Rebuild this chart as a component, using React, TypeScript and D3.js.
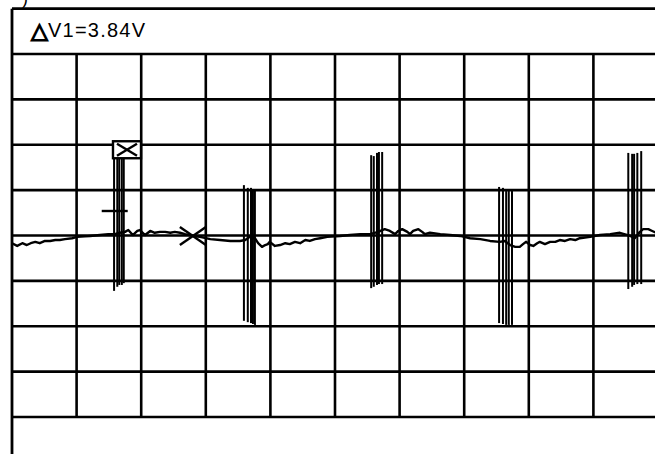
import React from "react";
import * as d3 from "d3";

// Screen size and graticule (10 x 8 divisions, plus one header division on top)
const W = 655;
const H = 454;
const DIV_X = 10;
const DIV_Y = 4; // +/- divisions around the centre line

// Trace samples: time in divisions, amplitude in divisions
const traceT = [
  0, 0.08, 0.16, 0.23, 0.29, 0.36, 0.43, 0.51, 0.59, 0.67, 0.74, 0.82, 0.93, 1.01,
  1.13, 1.21, 1.36, 1.49, 1.59, 1.67, 1.75, 1.8, 1.87, 1.94, 1.98, 2.06, 2.14, 2.21,
  2.29, 2.37, 2.45, 2.52, 2.6, 2.68, 2.8, 2.91, 3.07, 3.22, 3.38, 3.53, 3.61, 3.68,
  3.76, 3.81, 3.87, 3.92, 3.96, 3.99, 4.07, 4.15, 4.23, 4.3, 4.38, 4.46, 4.54, 4.61,
  4.69, 4.77, 4.88, 5.08, 5.23, 5.39, 5.54, 5.67, 5.73, 5.77, 5.85, 5.93, 5.98, 6.04,
  6.12, 6.16, 6.21, 6.29, 6.35, 6.39, 6.47, 6.63, 6.78, 6.94, 7.09, 7.25, 7.4, 7.55,
  7.63, 7.71, 7.79, 7.86, 7.91, 7.96, 8.02, 8.07, 8.13, 8.17, 8.25, 8.33, 8.41, 8.48,
  8.56, 8.64, 8.72, 8.79, 8.95, 9.1, 9.26, 9.41, 9.57, 9.64, 9.72, 9.77, 9.85, 9.91,
  9.97,
];
const traceV = [
  -0.17, -0.23, -0.17, -0.21, -0.17, -0.14, -0.17, -0.12, -0.12, -0.1, -0.1, -0.08,
  -0.06, -0.03, -0.02, -0.01, 0.01, 0.03, 0.03, 0.06, 0.08, 0.12, 0.01, 0.1, 0.12,
  0.01, 0.1, 0.06, 0.08, 0.08, 0.06, 0.08, 0.06, 0.03, -0.01, -0.03, -0.08, -0.1,
  -0.12, -0.12, -0.1, -0.03, -0.06, -0.17, -0.25, -0.21, -0.19, -0.14, -0.23, -0.21,
  -0.17, -0.19, -0.14, -0.17, -0.1, -0.12, -0.08, -0.06, -0.03, -0.01, 0.01, 0.03,
  0.03, 0.08, 0.12, 0.14, 0.1, 0.03, 0.1, 0.14, 0.08, 0.03, 0.1, 0.14, 0.08, 0.03,
  0.06, 0.03, 0.01, -0.01, -0.06, -0.08, -0.12, -0.14, -0.12, -0.21, -0.25, -0.25,
  -0.19, -0.14, -0.21, -0.23, -0.17, -0.14, -0.19, -0.14, -0.14, -0.1, -0.12, -0.08,
  -0.1, -0.06, -0.03, 0.01, 0.03, 0.06, -0.01, -0.06, 0.08, 0.14, 0.14, 0.1, 0.06,
];

// Switching spikes: one entry per vertical stroke (time, top, bottom) in divisions
const spikeT = [
  1.58, 1.63, 1.66, 1.7, 1.73,
  3.59, 3.65, 3.7, 3.73, 3.76,
  5.56, 5.6, 5.65, 5.68, 5.73,
  7.54, 7.6, 7.65, 7.69, 7.74,
  9.54, 9.6, 9.63, 9.68, 9.74,
];
const spikeTop = [
  1.71, 1.71, 1.71, 1.71, 1.71,
  1.11, 1.05, 1.05, 1.02, 1.02,
  1.77, 1.75, 1.82, 1.84, 1.84,
  1.07, 1.05, 0.98, 0.98, 0.98,
  1.82, 1.8, 1.8, 1.82, 1.86,
];
const spikeBottom = [
  -1.22, -1.13, -1.09, -1.09, -1.05,
  -1.88, -1.91, -1.93, -1.95, -1.97,
  -1.16, -1.13, -1.09, -1.07, -1.07,
  -1.93, -1.95, -1.97, -1.97, -1.97,
  -1.18, -1.13, -1.09, -1.07, -1.07,
];

// Cursor markers (time, level) in divisions
const boxMarker = { t: 1.78, v: 1.89 };
const dashMarker = { t: 1.59, v: 0.54 };
const crossMarker = { t: 2.8, v: -0.01 };

const readoutSymbol = "△";
const readout = "V1=3.84V";

export default function App() {
  const x = d3.scaleLinear().domain([0, DIV_X]).range([12, 658]);
  const y = d3.scaleLinear().domain([-DIV_Y, DIV_Y]).range([417, 54]);

  const trace = d3
    .line<number>()
    .x((_, i) => x(traceT[i]))
    .y((_, i) => y(traceV[i]))
    .curve(d3.curveLinear)(traceT);

  const vTicks = d3.range(1, DIV_X);
  const hTicks = d3.range(-DIV_Y, DIV_Y + 1);

  const bx = x(boxMarker.t);
  const by = y(boxMarker.v);
  const dx = x(dashMarker.t);
  const dy = y(dashMarker.v);
  const cx = x(crossMarker.t);
  const cy = y(crossMarker.v);

  return (
    <svg
      width={W}
      height={H}
      style={{ position: "absolute", left: 0, top: 0, background: "#fff" }}
      fontFamily="'Liberation Sans', Arial, sans-serif"
    >
      {/* caption fragment above the screen */}
      <text x={22} y={4} fontSize={18} fill="#000">
        )
      </text>

      {/* outer frame: header division on top, screen continues below */}
      <line x1={x(0)} x2={x(DIV_X)} y1={y(5)} y2={y(5)} stroke="#000" strokeWidth={2.8} />
      <line x1={x(0)} x2={x(0)} y1={y(5)} y2={y(-5)} stroke="#000" strokeWidth={2.8} />
      <line x1={x(DIV_X)} x2={x(DIV_X)} y1={y(5)} y2={y(-5)} stroke="#000" strokeWidth={2.8} />

      {/* graticule */}
      {hTicks.map((v) => (
        <line key={"h" + v} x1={x(0)} x2={x(DIV_X)} y1={y(v)} y2={y(v)} stroke="#000" strokeWidth={2.6} />
      ))}
      {vTicks.map((t) => (
        <line key={"v" + t} x1={x(t)} x2={x(t)} y1={y(DIV_Y)} y2={y(-DIV_Y)} stroke="#000" strokeWidth={2.6} />
      ))}

      {/* readout */}
      <text x={31} y={38} fontSize={20} fill="#000">
        <tspan
          fontFamily="'DejaVu Sans', sans-serif"
          fontSize={22}
          stroke="#000"
          strokeWidth={1.4}
        >
          {readoutSymbol}
        </tspan>
        <tspan x={48} y={37} textLength={97} lengthAdjust="spacing">
          {readout}
        </tspan>
      </text>

      {/* spikes */}
      {spikeT.map((t, i) => (
        <line
          key={"s" + i}
          x1={x(t)}
          x2={x(t)}
          y1={y(spikeTop[i])}
          y2={y(spikeBottom[i])}
          stroke="#000"
          strokeWidth={2}
        />
      ))}

      {/* trace */}
      <path d={trace ?? ""} fill="none" stroke="#000" strokeWidth={2.4} strokeLinejoin="round" />

      {/* cursor markers */}
      <g stroke="#000" strokeWidth={2.4} fill="none">
        <rect x={bx - 14} y={by - 8.5} width={28} height={17} fill="#fff" />
        <line x1={bx - 10} y1={by - 6} x2={bx + 10} y2={by + 6} />
        <line x1={bx - 10} y1={by + 6} x2={bx + 10} y2={by - 6} />
        <line x1={dx - 13} x2={dx + 13} y1={dy} y2={dy} />
        <line x1={cx - 13} y1={cy - 9} x2={cx + 13} y2={cy + 9} />
        <line x1={cx - 13} y1={cy + 9} x2={cx + 13} y2={cy - 9} />
      </g>
    </svg>
  );
}
